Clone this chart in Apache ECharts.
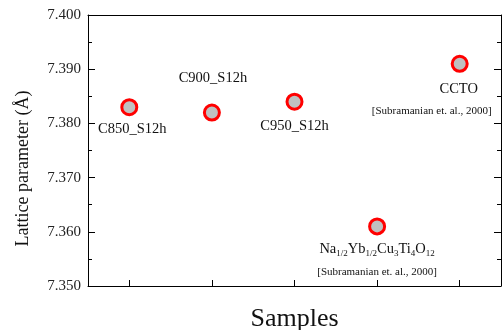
<!DOCTYPE html>
<html><head><meta charset="utf-8">
<script src="https://cdn.jsdelivr.net/npm/echarts@6/dist/echarts.min.js"></script>
<style>html,body{margin:0;padding:0;background:#fff}#c{width:504px;height:330px}</style>
</head><body><div id="c"></div>
<script>
var categories = ['C850_S12h', 'C900_S12h', 'C950_S12h', 'NYCTO', 'CCTO'];
var values = [7.383, 7.382, 7.384, 7.361, 7.391];
var yTicks = { min: 7.35, max: 7.40, interval: 0.01 };
var citation = '[Subramanian et. al., 2000]';
var labelTexts = [
  '{m|C850_S12h}',
  '{m|C900_S12h}',
  '{m|C950_S12h}',
  '{m|Na}{s|1/2}{m|Yb}{s|1/2}{m|Cu}{s|3}{m|Ti}{s|4}{m|O}{s|12}\n{c|' + citation + '}',
  '{cc|CCTO}\n{c|' + citation + '}'
];
var labelOffsets = [[3, 22], [1, -34], [0, 24], [0, 34], [-28, 36]];

var FONT = '"Liberation Serif", "DejaVu Serif", serif';
var rich = {
  m: { fontFamily: FONT, fontSize: 14.5, color: '#111', lineHeight: 23 },
  cc: { fontFamily: FONT, fontSize: 14.5, color: '#111', lineHeight: 22, padding: [0, 0, 0, 54] },
  s: { fontFamily: FONT, fontSize: 9, color: '#111', lineHeight: 10, verticalAlign: 'middle', padding: [8, 0, 0, 0] },
  c: { fontFamily: FONT, fontSize: 11, color: '#111', lineHeight: 22 }
};

var data = values.map(function (v, i) {
  return {
    value: [categories[i], v],
    label: { show: true, position: 'inside', offset: labelOffsets[i], formatter: labelTexts[i], rich: rich }
  };
});

var axisLine = { show: true, lineStyle: { color: '#000', width: 1 } };
var chart = echarts.init(document.getElementById('c'));
chart.setOption({
  animation: false,
  backgroundColor: '#fff',
  grid: { left: 88, right: 3, top: 15, bottom: 44, containLabel: false, outerBoundsMode: 'none' },
  xAxis: [{
    type: 'category', data: categories, boundaryGap: true, position: 'bottom',
    axisLine: axisLine,
    axisTick: { show: true, inside: true, alignWithLabel: true, length: 6, lineStyle: { color: '#000' } },
    axisLabel: { show: false },
    splitLine: { show: false },
    name: 'Samples', nameLocation: 'middle', nameGap: 20,
    nameTextStyle: { fontFamily: FONT, fontSize: 26, color: '#111' }
  }, {
    type: 'category', data: categories, position: 'top',
    axisLine: axisLine, axisTick: { show: false }, axisLabel: { show: false }, splitLine: { show: false }
  }],
  yAxis: [{
    type: 'value', min: yTicks.min, max: yTicks.max, interval: yTicks.interval, position: 'left',
    axisLine: axisLine,
    axisTick: { show: true, inside: true, length: 7, lineStyle: { color: '#000' } },
    minorTick: { show: true, splitNumber: 2, length: 4, lineStyle: { color: '#000' } },
    axisLabel: { show: true, margin: 7, fontFamily: FONT, fontSize: 15, color: '#222', formatter: function (v) { return v.toFixed(3); } },
    splitLine: { show: false },
    name: 'Lattice parameter (Å)', nameLocation: 'middle', nameGap: 56,
    nameTextStyle: { fontFamily: FONT, fontSize: 18, color: '#111', padding: [0, 36, 0, 0] }
  }, {
    type: 'value', min: yTicks.min, max: yTicks.max, interval: yTicks.interval, position: 'right',
    axisLine: axisLine,
    axisTick: { show: true, inside: true, length: 7, lineStyle: { color: '#000' } },
    minorTick: { show: true, splitNumber: 2, length: 4, lineStyle: { color: '#000' } },
    axisLabel: { show: false }, splitLine: { show: false }
  }],
  series: [{
    type: 'scatter', xAxisIndex: 0, yAxisIndex: 0,
    symbol: 'circle', symbolSize: 15,
    itemStyle: { color: '#c0c0c0', borderColor: '#ff0000', borderWidth: 3, opacity: 1 },
    data: data
  }]
});
</script></body></html>
